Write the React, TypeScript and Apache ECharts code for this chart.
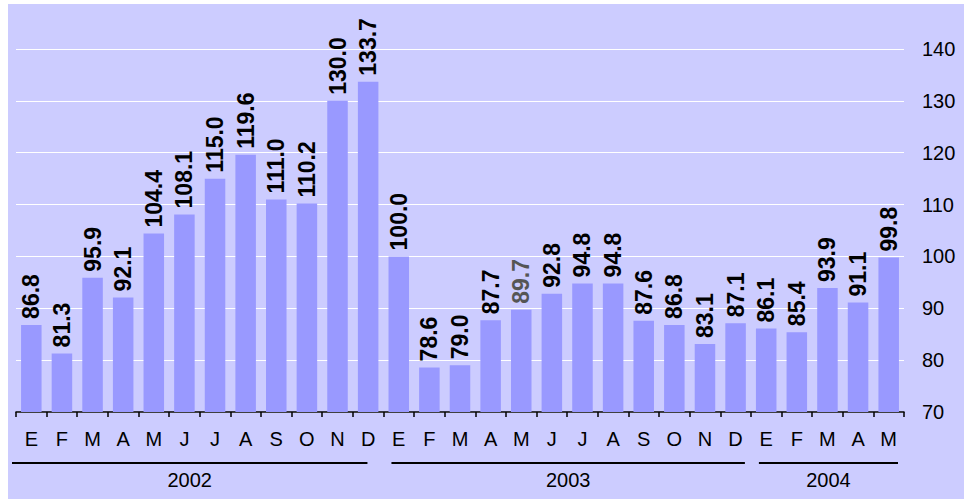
import React, { useEffect, useRef } from "react";
import * as echarts from "echarts";

const monthLabels = [
  "E", "F", "M", "A", "M", "J", "J", "A", "S", "O", "N", "D",
  "E", "F", "M", "A", "M", "J", "J", "A", "S", "O", "N", "D",
  "E", "F", "M", "A", "M",
];
const values = [
  86.8, 81.3, 95.9, 92.1, 104.4, 108.1, 115.0, 119.6, 111.0, 110.2, 130.0, 133.7,
  100.0, 78.6, 79.0, 87.7, 89.7, 92.8, 94.8, 94.8, 87.6, 86.8, 83.1, 87.1,
  86.1, 85.4, 93.9, 91.1, 99.8,
];
const grayLabelIndex = [16];
const years = ["2002", "2003", "2004"];
const yearMonthCounts = [12, 12, 5];
const yMin = 70;
const yMax = 140;
const yStep = 10;

const FONT = "'Liberation Sans', Arial, sans-serif";

export default function App() {
  const ref = useRef<HTMLDivElement>(null);
  useEffect(() => {
    if (!ref.current) return;
    const chart = echarts.init(ref.current, undefined, { renderer: "svg" });
    const gridLeft = 8;
    const gridRight = 60;
    chart.setOption({
      animation: false,
      backgroundColor: "#CCCCFF",
      grid: { left: gridLeft, right: gridRight, top: 45, bottom: 87 },
      xAxis: {
        type: "category",
        data: monthLabels,
        axisLine: { show: true, lineStyle: { color: "#000", width: 1.5 } },
        axisTick: { show: true, alignWithLabel: false, length: 5, lineStyle: { color: "#000", width: 1.5 } },
        axisLabel: { color: "#000", fontSize: 20, fontFamily: FONT, margin: 17, interval: 0 },
        splitLine: { show: false },
      },
      yAxis: {
        type: "value",
        position: "right",
        min: yMin,
        max: yMax,
        interval: yStep,
        axisLine: { show: false },
        axisTick: { show: false },
        axisLabel: { color: "#000", fontSize: 20, fontFamily: FONT, margin: 18 },
        splitLine: { show: true, lineStyle: { color: "#FFFFFF", width: 1 } },
      },
      series: [
        {
          type: "bar",
          barCategoryGap: "33%",
          itemStyle: { color: "#9999FF" },
          data: values.map((v, i) =>
            grayLabelIndex.includes(i)
              ? { value: v, label: { color: "#555555" } }
              : v
          ),
          label: {
            show: true,
            position: "top",
            rotate: 90,
            align: "left",
            verticalAlign: "middle",
            distance: 6,
            color: "#000",
            fontSize: 23,
            fontWeight: "bold",
            fontFamily: FONT,
            formatter: (p: any) => Number(p.value).toFixed(1),
          },
        },
      ],
    });

    // Year grouping lines & labels, placed from the category axis scale
    const width = chart.getWidth();
    const plotW = width - gridLeft - gridRight;
    const band = plotW / monthLabels.length;
    const graphics: any[] = [];
    let start = 0;
    years.forEach((y, k) => {
      const n = yearMonthCounts[k];
      const x0 = chart.convertToPixel({ xAxisIndex: 0 }, start) as number;
      const x1 = chart.convertToPixel({ xAxisIndex: 0 }, start + n - 1) as number;
      const left = x0 - band / 2 + (k === 0 ? -4 : 8);
      const right = x1 + band / 2 - (k === 0 ? 16 : 6);
      const lineY = 459;
      graphics.push({
        type: "line",
        shape: { x1: left, y1: lineY, x2: right, y2: lineY },
        style: { stroke: "#000", lineWidth: 2 },
      });
      graphics.push({
        type: "text",
        x: (left + right) / 2,
        y: 476,
        style: {
          text: y,
          fill: "#000",
          font: `20px ${FONT}`,
          align: "center",
          verticalAlign: "middle",
        },
      });
      start += n;
    });
    chart.setOption({ graphic: graphics });

    return () => chart.dispose();
  }, []);

  return (
    <div
      ref={ref}
      style={{ position: "fixed", left: 8, top: 4, width: 956, height: 495 }}
    />
  );
}
